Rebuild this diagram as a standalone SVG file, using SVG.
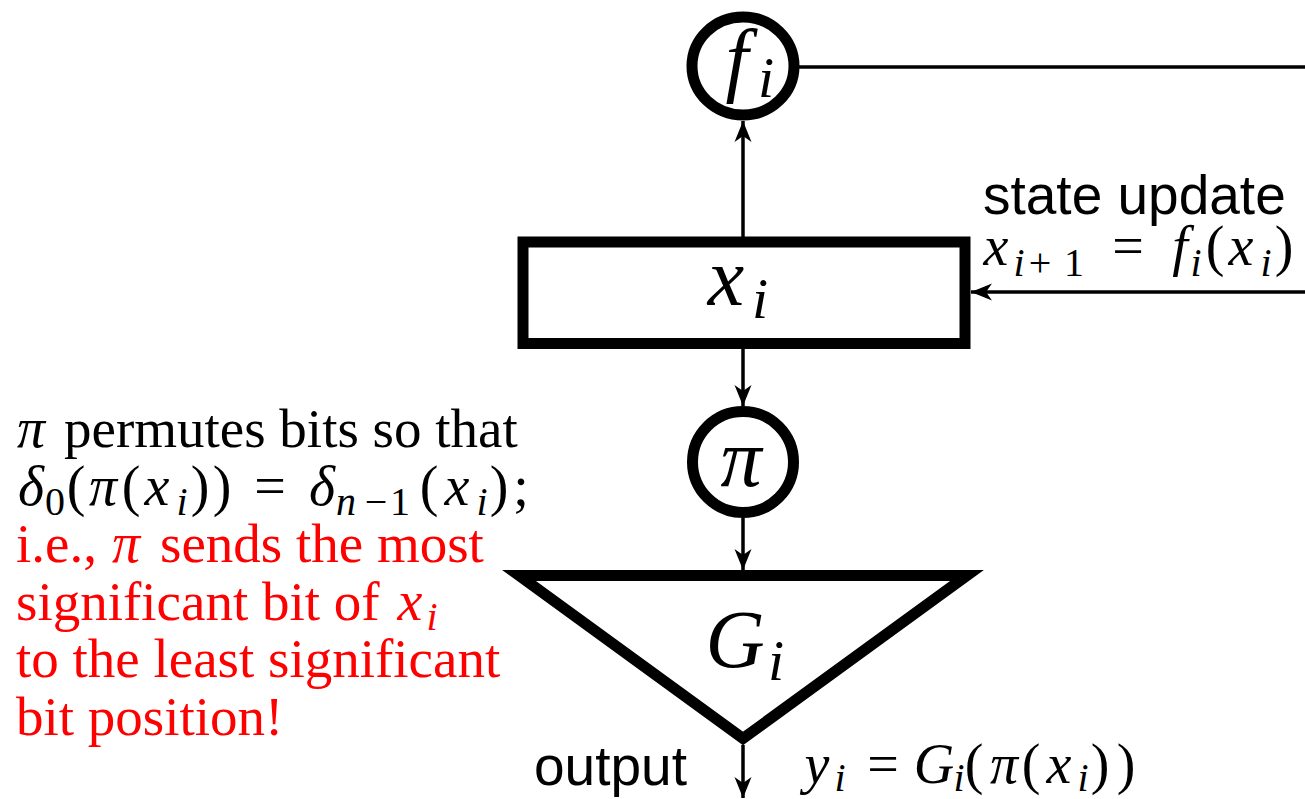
<svg xmlns="http://www.w3.org/2000/svg" width="1305" height="799" viewBox="0 0 1305 799">
<style>
.node{fill:#fff;stroke:#000;stroke-width:11}
.conn{fill:none;stroke:#000;stroke-width:3.5}
text{text-anchor:middle}
.m{font-family:"Liberation Serif","Times New Roman",serif;font-style:italic}
.r{font-family:"Liberation Serif","Times New Roman",serif;font-style:normal}
.big{font-size:82px}
.mid{font-size:56px}
.sub{font-size:40px}
.bsub{font-size:58px}
.sans{font-family:"Liberation Sans",Arial,sans-serif;font-size:55px;text-anchor:start}
.prose{font-family:"Liberation Serif","Times New Roman",serif;font-size:55px;text-anchor:start}
.red{fill:#ff0000}
</style>
<defs>
<marker id="arr" markerUnits="userSpaceOnUse" markerWidth="24" markerHeight="20" viewBox="-22 -10 24 20" refX="0" refY="0" orient="auto">
<path d="M0,0 L-21,-8.5 L-15,0 L-21,8.5 Z" fill="#000"/>
</marker>
</defs>
<rect width="1305" height="799" fill="#fff"/>
<g id="connectors">
<line class="conn" x1="743" y1="237" x2="743" y2="121" marker-end="url(#arr)"/>
<line class="conn" x1="795" y1="67" x2="1305" y2="67"/>
<line class="conn" x1="1305" y1="292" x2="971" y2="292" marker-end="url(#arr)"/>
<line class="conn" x1="743" y1="349" x2="743" y2="406" marker-end="url(#arr)"/>
<line class="conn" x1="743" y1="518" x2="743" y2="570" marker-end="url(#arr)"/>
<line class="conn" x1="743" y1="745" x2="743" y2="798" marker-end="url(#arr)"/>
</g>
<g id="node-f">
<ellipse class="node" cx="743" cy="66" rx="51" ry="49"/>
<text class="m big" x="737" y="86">f</text>
<text class="m bsub" x="766" y="97">i</text>
</g>
<g id="node-x">
<rect class="node" x="523" y="242" width="442" height="101.5"/>
<text class="m big" x="726" y="305">x</text>
<text class="m bsub" x="760" y="318">i</text>
</g>
<g id="node-pi">
<circle class="node" cx="743" cy="462" r="50.5"/>
<text class="m big" x="741" y="486">π</text>
</g>
<g id="node-G">
<polygon class="node" points="519,575.5 967,575.5 743,738.5" stroke-linejoin="miter"/>
<text class="m big" x="735" y="667">G</text>
<text class="m bsub" x="776" y="680">i</text>
</g>
<g id="label-state">
<text class="sans" x="983" y="214">state update</text>
<text class="m mid" x="996" y="265">x</text>
<text class="m sub" x="1019" y="276">i</text>
<text class="r sub" x="1040" y="276">+</text>
<text class="r sub" x="1074" y="276">1</text>
<text class="r mid" x="1128" y="265">=</text>
<text class="m mid" x="1180" y="265">f</text>
<text class="m sub" x="1196" y="276">i</text>
<text class="r mid" x="1215" y="265">(</text>
<text class="m mid" x="1241" y="265">x</text>
<text class="m sub" x="1266" y="276">i</text>
<text class="r mid" x="1284" y="265">)</text>
</g>
<g id="label-output">
<text class="sans" x="534" y="785">output</text>
<text class="m mid" x="817" y="783">y</text>
<text class="m sub" x="840" y="791">i</text>
<text class="r mid" x="883" y="783">=</text>
<text class="m mid" x="934" y="783">G</text>
<text class="m sub" x="959" y="791">i</text>
<text class="r mid" x="974" y="783">(</text>
<text class="m mid" x="1004" y="783">π</text>
<text class="r mid" x="1031" y="783">(</text>
<text class="m mid" x="1059" y="783">x</text>
<text class="m sub" x="1083" y="791">i</text>
<text class="r mid" x="1100" y="783">)</text>
<text class="r mid" x="1126" y="783">)</text>
</g>
<g id="note">
<text class="m mid" x="31" y="447">π</text>
<text class="prose" x="64" y="447">permutes bits so that</text>
<text class="m mid" x="31" y="505">δ</text>
<text class="r sub" x="55" y="515">0</text>
<text class="r mid" x="76" y="505">(</text>
<text class="m mid" x="103" y="505">π</text>
<text class="r mid" x="131" y="505">(</text>
<text class="m mid" x="157" y="505">x</text>
<text class="m sub" x="182" y="515">i</text>
<text class="r mid" x="200" y="505">)</text>
<text class="r mid" x="222" y="505">)</text>
<text class="r mid" x="270" y="505">=</text>
<text class="m mid" x="322" y="505">δ</text>
<text class="m sub" x="346" y="515">n</text>
<text class="r sub" x="376" y="515">−</text>
<text class="r sub" x="400" y="515">1</text>
<text class="r mid" x="429" y="505">(</text>
<text class="m mid" x="457" y="505">x</text>
<text class="m sub" x="482" y="515">i</text>
<text class="r mid" x="499" y="505">)</text>
<text class="r mid" x="521" y="505">;</text>
<text class="prose red" x="16" y="562">i.e.,</text>
<text class="m mid red" x="126" y="562">π</text>
<text class="prose red" x="160" y="562">sends the most</text>
<text class="prose red" x="16" y="620">significant bit of</text>
<text class="m mid red" x="410" y="620">x</text>
<text class="m sub red" x="432" y="630">i</text>
<text class="prose red" x="16" y="677">to the least significant</text>
<text class="prose red" x="16" y="735">bit position!</text>
</g>
</svg>
